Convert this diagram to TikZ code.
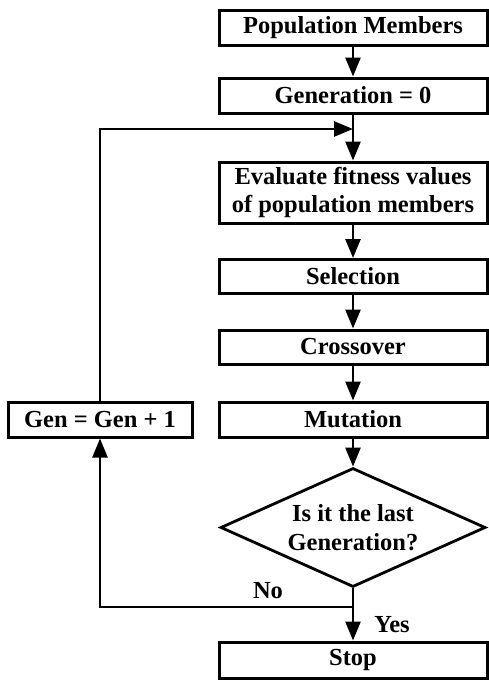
\documentclass[tikz,border=0pt]{standalone}
\usepackage{fontspec}
\setmainfont{Liberation Serif}
\usetikzlibrary{arrows.meta,shapes.geometric}
\begin{document}
\begin{tikzpicture}[x=1pt,y=-1pt,
  txt/.style={font=\bfseries\fontsize{24.5}{28.5}\selectfont},
  box/.style={txt,draw,line width=3pt,inner sep=0pt,align=center,minimum width=268pt},
  decision/.style={txt,draw,diamond,line width=2.8pt,inner sep=0pt,align=center,
     minimum width=265pt,minimum height=119pt,shape aspect=2.23},
  conn/.style={line width=2.6pt,-{Triangle[length=19pt,width=15pt]}},
  lbl/.style={txt}]
\useasboundingbox (0,0) rectangle (489,680);
\node[box,minimum height=35pt] (pop) at (353,27.5) {Population Members};
\node[box,minimum height=35pt] (gen0) at (353,95.5) {Generation = 0};
\node[box,minimum height=61pt] (eval) at (353,192.5) {Evaluate fitness values\\of population members};
\node[box,minimum height=34pt] (sel) at (353,276.5) {Selection};
\node[box,minimum height=34pt] (cross) at (353,347) {Crossover};
\node[box,minimum height=35pt] (mut) at (353,419.5) {Mutation};
\node[box,minimum height=35pt,minimum width=184pt] (inc) at (100,419.5) {Gen = Gen + 1};
\node[decision] (dec) at (353,527.5) {Is it the last\\Generation?};
\node[box,minimum height=36pt] (stop) at (353,660) {Stop};
\coordinate (join) at (353,129);
\coordinate (split) at (353,607);
\draw[conn] (pop) -- (gen0);
\draw[conn] (gen0) -- (eval);
\draw[conn] (inc.north) |- (join);
\draw[conn] (eval) -- (sel);
\draw[conn] (sel) -- (cross);
\draw[conn] (cross) -- (mut);
\draw[conn] (mut) -- (dec);
\draw[line width=2.6pt] (dec.south) -- (split);
\draw[conn] (split) -- (stop);
\draw[conn] (split) -| (inc.south);
\node[lbl] (no) at (268,591) {No};
\node[lbl] (yes) at (392,625) {Yes};
\end{tikzpicture}
\end{document}
